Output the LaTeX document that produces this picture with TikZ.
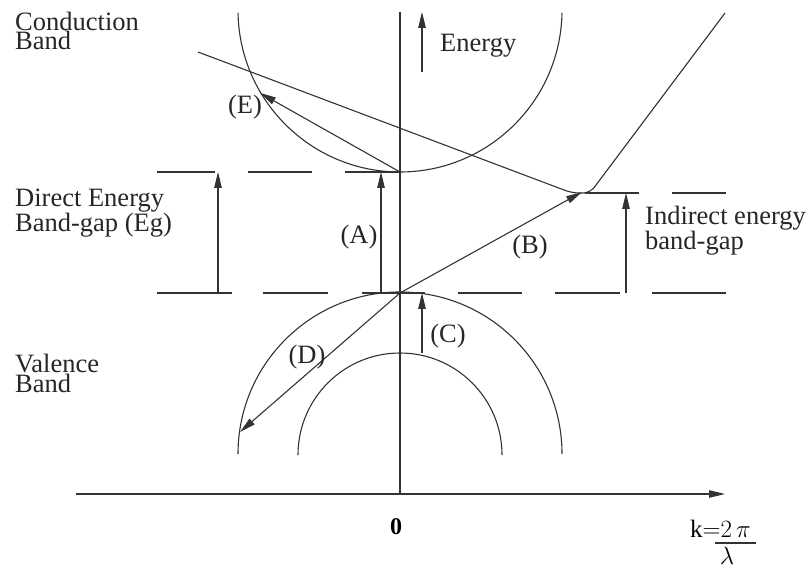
\documentclass[tikz,border=0pt]{standalone}
\usepackage{fontspec}
\setmainfont{Liberation Serif}
\usetikzlibrary{arrows.meta}
\tikzset{
  ln/.style={draw=black!80, line width=1.1pt},
  arr/.style={ln, -{Triangle[length=16pt,width=7.5pt]}},
  lbl/.style={inner sep=0pt, text=black!85, font=\fontsize{26.5}{18.5}\selectfont},
  lbltxt/.style={lbl, anchor=base west, align=left},
}
\begin{document}
\begin{tikzpicture}[x=1pt,y=1pt]
\useasboundingbox (0,0) rectangle (808,568);
% axes
\coordinate (vtop) at (400,556);
\coordinate (origin) at (400,74);
\coordinate (hleft) at (76,74);
\coordinate (hright) at (725,74);
\draw[ln] (vtop) -- (origin);
\draw[arr] (hleft) -- (hright);
% conduction band
\coordinate (cbc) at (400,558);
\draw[ln] ([shift={(181:162pt)}]cbc) arc[start angle=181,end angle=359,radius=162pt];
% valence bands
\coordinate (vbc) at (400,114);
\coordinate (vbi) at (400,113);
\draw[ln] ([shift={(0:162pt)}]vbc) arc[start angle=0,end angle=180,radius=162pt];
\draw[ln] ([shift={(0:102pt)}]vbi) arc[start angle=0,end angle=180,radius=102pt];
% key points
\coordinate (cbmin) at (400,396);
\coordinate (vbmax) at (400,275);
\coordinate (icb) at (582,376);
% indirect band V
\coordinate (vl) at (198,516);
\coordinate (vr) at (725,555);
\draw[ln, rounded corners=7pt] (vl) -- (572,375) -- (590,375) -- (vr);
% dashed levels
\foreach \a/\b in {157/215,248/312,345/400}
  \draw[ln] (\a,396) -- (\b,396);
\foreach \a/\b in {585/639,672/726}
  \draw[ln] (\a,375) -- (\b,375);
\foreach \a/\b in {157/232,263/328,362/425,458/522,555/620,652/726}
  \draw[ln] (\a,275) -- (\b,275);
% energy arrow
\coordinate (e0) at (422,496);
\coordinate (e1) at (422,556);
\draw[arr] (e0) -- (e1);
\node[lbltxt] (energy) at (440,516) {Energy};
% direct gap arrow
\coordinate (dg0) at (218,275);
\coordinate (dg1) at (218,396);
\draw[arr] (dg0) -- (dg1);
% (A)
\coordinate (a0) at (381,275);
\coordinate (a1) at (381,396);
\draw[arr] (a0) -- (a1);
\node[lbl] (A) at (359,331) {(A)};
% (B)
\draw[arr] (vbmax) -- (icb);
\node[lbl] (B) at (530,321) {(B)};
% indirect gap arrow
\coordinate (ig0) at (626,275);
\coordinate (ig1) at (626,375);
\draw[arr] (ig0) -- (ig1);
% (C)
\coordinate (c0) at (422,215);
\coordinate (c1) at (422,275);
\draw[arr] (c0) -- (c1);
\node[lbl] (C) at (448,232) {(C)};
% (D)
\coordinate (d1) at (240,136);
\draw[arr] (vbmax) -- (d1);
\node[lbl] (D) at (307,211) {(D)};
% (E)
\coordinate (e1p) at (260,475);
\draw[arr] (cbmin) -- (e1p);
\node[lbl] (E) at (245,461) {(E)};
% texts (anchor = baseline of last line)
\node[lbltxt] (cond) at (15,518) {Conduction\\Band};
\node[lbltxt] (direct) at (15,336) {Direct Energy\\Band-gap (Eg)};
\node[lbltxt] (val) at (15,176) {Valence\\Band};
\node[lbltxt] (indirect) at (645,318) {Indirect energy\\band-gap};
% axis labels
\node[inner sep=0pt, font=\fontsize{24}{24}\selectfont] (zero) at (396,41) {$\mathbf{0}$};
\node[inner sep=0pt, anchor=base east, font=\fontsize{25}{25}\selectfont] (k) at (751,31) {$\mathrm{k}{=}2\,\pi$};
\coordinate (bar0) at (715,25);
\coordinate (bar1) at (756,25);
\draw[ln] (bar0) -- (bar1);
\node[inner sep=0pt, font=\fontsize{25}{25}\selectfont] (lam) at (727,12) {$\lambda$};
\end{tikzpicture}
\end{document}
